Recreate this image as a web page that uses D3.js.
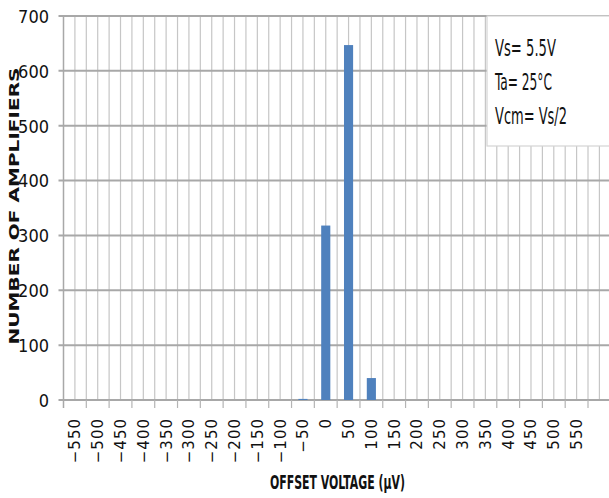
<!DOCTYPE html>
<html>
<head>
<meta charset="utf-8">
<script src="https://cdn.jsdelivr.net/npm/d3@7"></script>
<style>
  body { margin: 0; background: #fff; }
  svg { display: block; }
</style>
</head>
<body>
<script>
// offset voltage bins (µV) and how many amplifiers fell in each
const offsets = [-550, -500, -450, -400, -350, -300, -250, -200, -150, -100, -50,
                 0, 50, 100, 150, 200, 250, 300, 350, 400, 450, 500, 550];
const counts  = [0, 0, 0, 0, 0, 0, 0, 0, 0, 0, 2,
                 318, 647, 40, 0, 0, 0, 0, 0, 0, 0, 0, 0];
const yTicks = [0, 100, 200, 300, 400, 500, 600, 700];
const notes = ["Vs= 5.5V", "Ta= 25°C", "Vcm= Vs/2"];

function main() {
    const width = 609;
    const height = 498;
    const left = 63.5, right = 588, top = 16, bottom = 400;
    const narrow = "'Liberation Sans Narrow', 'DejaVu Sans Condensed', sans-serif";

    const svg = d3.select("body").append("svg")
        .attr("width", width)
        .attr("height", height);

    const x = d3.scaleBand()
        .domain(offsets)
        .range([left, right]);

    const y = d3.scaleLinear()
        .domain([0, 700])
        .range([bottom, top]);

    const bw = x.bandwidth();

    // vertical grid: every half category, running on past the cropped right edge
    const vx = d3.range(left + bw / 2, width + 1, bw / 2);
    svg.append("g")
        .selectAll("line")
        .data(vx)
        .join("line")
        .attr("x1", d => d).attr("x2", d => d)
        .attr("y1", top).attr("y2", bottom)
        .attr("stroke", "#c6c6c6")
        .attr("stroke-width", 1.2);

    // horizontal grid
    svg.append("g")
        .selectAll("line")
        .data(yTicks)
        .join("line")
        .attr("x1", left - 5).attr("x2", width)
        .attr("y1", d => y(d)).attr("y2", d => y(d))
        .attr("stroke", "#a8a8a8")
        .attr("stroke-width", 2);

    // left axis line
    svg.append("line")
        .attr("x1", left).attr("x2", left)
        .attr("y1", top).attr("y2", bottom + 8)
        .attr("stroke", "#a8a8a8")
        .attr("stroke-width", 1.5);

    // bottom tick marks on category boundaries
    const bx = d3.range(left + bw, width + 1, bw);
    svg.append("g")
        .selectAll("line")
        .data(bx)
        .join("line")
        .attr("x1", d => d).attr("x2", d => d)
        .attr("y1", bottom).attr("y2", bottom + 8)
        .attr("stroke", "#b4b4b4")
        .attr("stroke-width", 1.2);

    // bars
    svg.append("g")
        .selectAll("rect")
        .data(offsets.map((o, i) => ({ o, v: counts[i] })).filter(d => d.v > 0))
        .join("rect")
        .attr("x", d => x(d.o) + bw * 0.3)
        .attr("width", bw * 0.4)
        .attr("y", d => y(d.v))
        .attr("height", d => y(0) - y(d.v))
        .attr("fill", "#4f81bd");

    // y tick labels
    svg.append("g")
        .selectAll("text")
        .data(yTicks)
        .join("text")
        .attr("x", 49)
        .attr("y", d => y(d))
        .attr("dy", "0.38em")
        .attr("text-anchor", "end")
        .style("font", `18px ${narrow}`)
        .attr("fill", "#111")
        .text(d => d);

    // x tick labels, rotated
    const fmt = d3.format("d");
    svg.append("g")
        .selectAll("text")
        .data(offsets)
        .join("text")
        .attr("transform", d => `translate(${x(d) + bw / 2},418) rotate(-90)`)
        .attr("dy", "0.36em")
        .attr("text-anchor", "end")
        .style("font", "15px 'DejaVu Sans', sans-serif")
        .style("letter-spacing", "1px")
        .attr("fill", "#111")
        .text(d => fmt(d));

    // axis titles
    svg.append("text")
        .attr("transform", "translate(19,206) rotate(-90)")
        .attr("text-anchor", "middle")
        .attr("textLength", 277)
        .attr("lengthAdjust", "spacingAndGlyphs")
        .style("font", "bold 14.5px 'DejaVu Sans', sans-serif")
        .attr("fill", "#111")
        .text("NUMBER OF AMPLIFIERS");

    svg.append("text")
        .attr("x", 270)
        .attr("y", 489)
        .attr("textLength", 135)
        .attr("lengthAdjust", "spacingAndGlyphs")
        .style("font", `bold 20px ${narrow}`)
        .attr("fill", "#111")
        .text("OFFSET VOLTAGE (µV)");

    // conditions box
    svg.append("rect")
        .attr("x", 487).attr("y", top)
        .attr("width", width - 487 + 2).attr("height", 130)
        .attr("fill", "#fff")
        .attr("stroke", "#d4d4d4")
        .attr("stroke-width", 1.2);

    const widths = [61, 57, 72];
    svg.append("g")
        .selectAll("text")
        .data(notes)
        .join("text")
        .attr("x", 495)
        .attr("y", (d, i) => 56 + i * 34)
        .attr("textLength", (d, i) => widths[i])
        .attr("lengthAdjust", "spacingAndGlyphs")
        .style("font", `23px ${narrow}`)
        .attr("fill", "#111")
        .text(d => d);
}

addEventListener('DOMContentLoaded', main)
</script>
</body>
</html>
